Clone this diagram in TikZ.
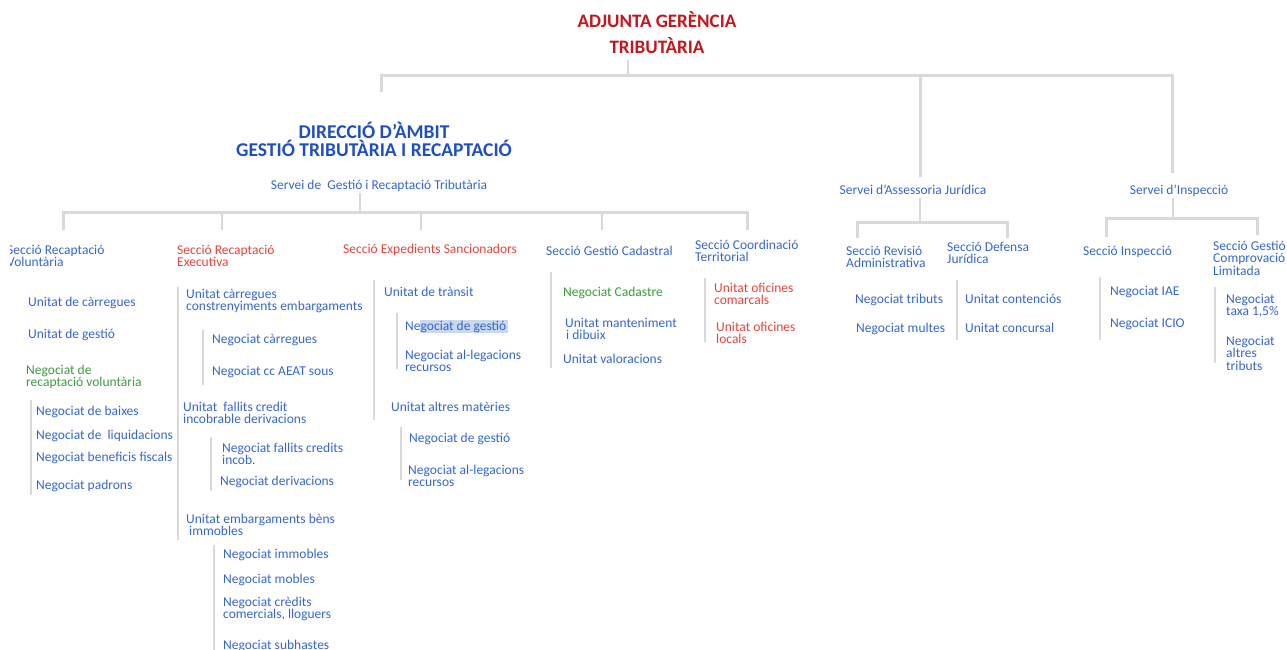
\documentclass[tikz,border=0pt]{standalone}
\usepackage{fontspec}
\setmainfont{Carlito}
\definecolor{tblue}{HTML}{3566CF}
\definecolor{tred}{HTML}{E5443A}
\definecolor{dred}{HTML}{C4171D}
\definecolor{dblue}{HTML}{1E4FC0}
\definecolor{tgreen}{HTML}{3E9B3E}
\definecolor{lgray}{HTML}{D9D9D9}
\definecolor{hl}{HTML}{C9D8EC}
\begin{document}
\begin{tikzpicture}[x=1pt,y=-1pt,
  lbl/.style={anchor=base west, inner sep=0pt, align=left, text=tblue,
    font=\fontsize{13.5}{12.5}\selectfont},
  redl/.style={lbl, text=tred},
  greenl/.style={lbl, text=tgreen},
  serv/.style={anchor=base, inner sep=0pt, text=tblue, font=\fontsize{13.5}{12.5}\selectfont},
  conn/.style={draw=lgray, line width=3pt, line join=miter},
  thin/.style={draw=lgray, line width=1.5pt},
  bar/.style={draw=lgray, line width=2pt}]
\useasboundingbox (0,0) rectangle (1287,650);

% titles
\node[anchor=base, inner sep=0pt, align=center, text=dred,
  font=\bfseries\fontsize{19}{26}\selectfont] (adj) at (657,54) {ADJUNTA GERÈNCIA\\TRIBUTÀRIA};
\node[anchor=base, inner sep=0pt, align=center, text=dblue,
  font=\bfseries\fontsize{19.5}{18}\selectfont] (dir) at (374,157) {DIRECCIÓ D'ÀMBIT\\GESTIÓ TRIBUTÀRIA I RECAPTACIÓ};

% services
\node[serv] (sgr) at (379,189) {Servei de\ \ Gestió i Recaptació Tributària};
\node[serv] (saj) at (913,194) {Servei d'Assessoria Jurídica};
\node[serv] (sin) at (1179,194) {Servei d'Inspecció};

% top tree
\coordinate (t0) at (628,60);
\coordinate (t1) at (628,76);
\coordinate (tl) at (381,76);
\coordinate (tm) at (920,76);
\coordinate (tr) at (1172,76);
\coordinate (tld) at (381,92);
\coordinate (tmd) at (920,177);
\coordinate (trd) at (1172,173);
\draw[thin] (t0) -- (t1);
\draw[conn] (tld) -- (tl) -- (tr) -- (trd);
\draw[conn] (tm) -- (tmd);

% Servei gestió tree
\coordinate (g0) at (360,193);
\coordinate (g1) at (360,212);
\coordinate (ga) at (63,212);
\coordinate (gb) at (222,212);
\coordinate (gc) at (421,212);
\coordinate (gd) at (602,212);
\coordinate (ge) at (747,212);
\coordinate (gad) at (63,230);
\coordinate (gbd) at (222,230);
\coordinate (gcd) at (421,230);
\coordinate (gdd) at (602,230);
\coordinate (ged) at (747,230);
\draw[thin] (g0) -- (g1);
\draw[conn] (gad) -- (ga) -- (ge) -- (ged);
\draw[thin] (gb) -- (gbd);
\draw[thin] (gc) -- (gcd);
\draw[thin] (gd) -- (gdd);

% Assessoria tree
\coordinate (a0) at (920,198);
\coordinate (a1) at (920,222);
\coordinate (aa) at (857,222);
\coordinate (ab) at (1007,222);
\coordinate (aad) at (857,238);
\coordinate (abd) at (1007,238);
\draw[thin] (a0) -- (a1);
\draw[conn] (aad) -- (aa) -- (ab) -- (abd);

% Inspeccio tree
\coordinate (i0) at (1173,198);
\coordinate (i1) at (1173,218);
\coordinate (ia) at (1106,218);
\coordinate (ib) at (1257,218);
\coordinate (iad) at (1106,237);
\coordinate (ibd) at (1257,235);
\draw[thin] (i0) -- (i1);
\draw[conn] (iad) -- (ia) -- (ib) -- (ibd);

% vertical bars
\foreach \x/\ya/\yb in {31/400/495, 178/287/540, 203/330/385, 211/437/491, 214/545/660,
  374/280/420, 397/313/369, 401/427/480, 551/272/368, 705/278/342, 957/280/340,
  1100/277/340, 1215/287/363}
  \draw[bar] (\x,\ya) -- (\x,\yb);

% highlight
\fill[hl] (420,320) rectangle (508,333);

% sections
\begin{scope}
\clip (10.5,0) rectangle (200,300);
\node[lbl] (sv) at (7,266.5) {Secció Recaptació\\Voluntària};
\end{scope}
\node[redl] (se) at (177,266.5) {Secció Recaptació\\Executiva};
\node[redl] (ss) at (343,253) {Secció Expedients Sancionadors};
\node[lbl] (sc) at (546,255) {Secció Gestió Cadastral};
\node[lbl] (st) at (695,261.5) {Secció Coordinació\\Territorial};
\node[lbl] (sr) at (846,267.5) {Secció Revisió\\Administrativa};
\node[lbl] (sd) at (947,263.5) {Secció Defensa\\Jurídica};
\node[lbl] (si) at (1083,255) {Secció Inspecció};
\node[lbl] (sl) at (1213,275) {Secció Gestió\\Comprovació\\Limitada};

% Voluntaria
\node[lbl] (v1) at (28,306) {Unitat de càrregues};
\node[lbl] (v2) at (28,338) {Unitat de gestió};
\node[greenl] (v3) at (26,386.5) {Negociat de\\recaptació voluntària};
\node[lbl] (v4) at (36,415) {Negociat de baixes};
\node[lbl] (v5) at (36,439) {Negociat de\ \ liquidacions};
\node[lbl] (v6) at (36,461) {Negociat beneficis fiscals};
\node[lbl] (v7) at (36,489) {Negociat padrons};

% Executiva
\node[lbl] (e1) at (186,310.5) {Unitat càrregues\\constrenyiments embargaments};
\node[lbl] (e2) at (212,343) {Negociat càrregues};
\node[lbl] (e3) at (212,375) {Negociat cc AEAT sous};
\node[lbl] (e4) at (183,423.5) {Unitat\ \ fallits credit\\incobrable derivacions};
\node[lbl] (e5) at (222,464.5) {Negociat fallits credits\\incob.};
\node[lbl] (e6) at (220,485) {Negociat derivacions};
\node[lbl] (e7) at (186,535.5) {Unitat embargaments bèns\\\hspace{3pt}immobles};
\node[lbl] (e8) at (223,558) {Negociat immobles};
\node[lbl] (e9) at (223,583) {Negociat mobles};
\node[lbl] (e10) at (223,618.5) {Negociat crèdits\\comercials, lloguers};
\node[lbl] (e11) at (223,649) {Negociat subhastes};

% Expedients
\node[lbl] (x1) at (384,296) {Unitat de trànsit};
\node[lbl] (x2) at (405,330) {Negociat de gestió};
\node[lbl] (x3) at (405,371.5) {Negociat al-legacions\\recursos};
\node[lbl] (x4) at (391,411) {Unitat altres matèries};
\node[lbl] (x5) at (409,442) {Negociat de gestió};
\node[lbl] (x6) at (408,486.5) {Negociat al-legacions\\recursos};

% Cadastral
\node[greenl] (c1) at (563,296) {Negociat Cadastre};
\node[lbl] (c2) at (565,339.5) {Unitat manteniment\\\hspace{1pt}i dibuix};
\node[lbl] (c3) at (563,363) {Unitat valoracions};

% Coordinacio
\node[redl] (o1) at (714,304.5) {Unitat oficines\\comarcals};
\node[redl] (o2) at (716,343.5) {Unitat oficines\\locals};

% Assessoria
\node[lbl] (r1) at (855,303) {Negociat tributs};
\node[lbl] (r2) at (856,332) {Negociat multes};
\node[lbl] (d1) at (965,303) {Unitat contenciós};
\node[lbl] (d2) at (965,332) {Unitat concursal};

% Inspeccio
\node[lbl] (n1) at (1110,295) {Negociat IAE};
\node[lbl] (n2) at (1110,327) {Negociat ICIO};
\node[lbl] (l1) at (1226,315.5) {Negociat\\taxa 1,5\%};
\node[lbl] (l2) at (1226,370) {Negociat\\altres\\tributs};
\end{tikzpicture}
\end{document}
